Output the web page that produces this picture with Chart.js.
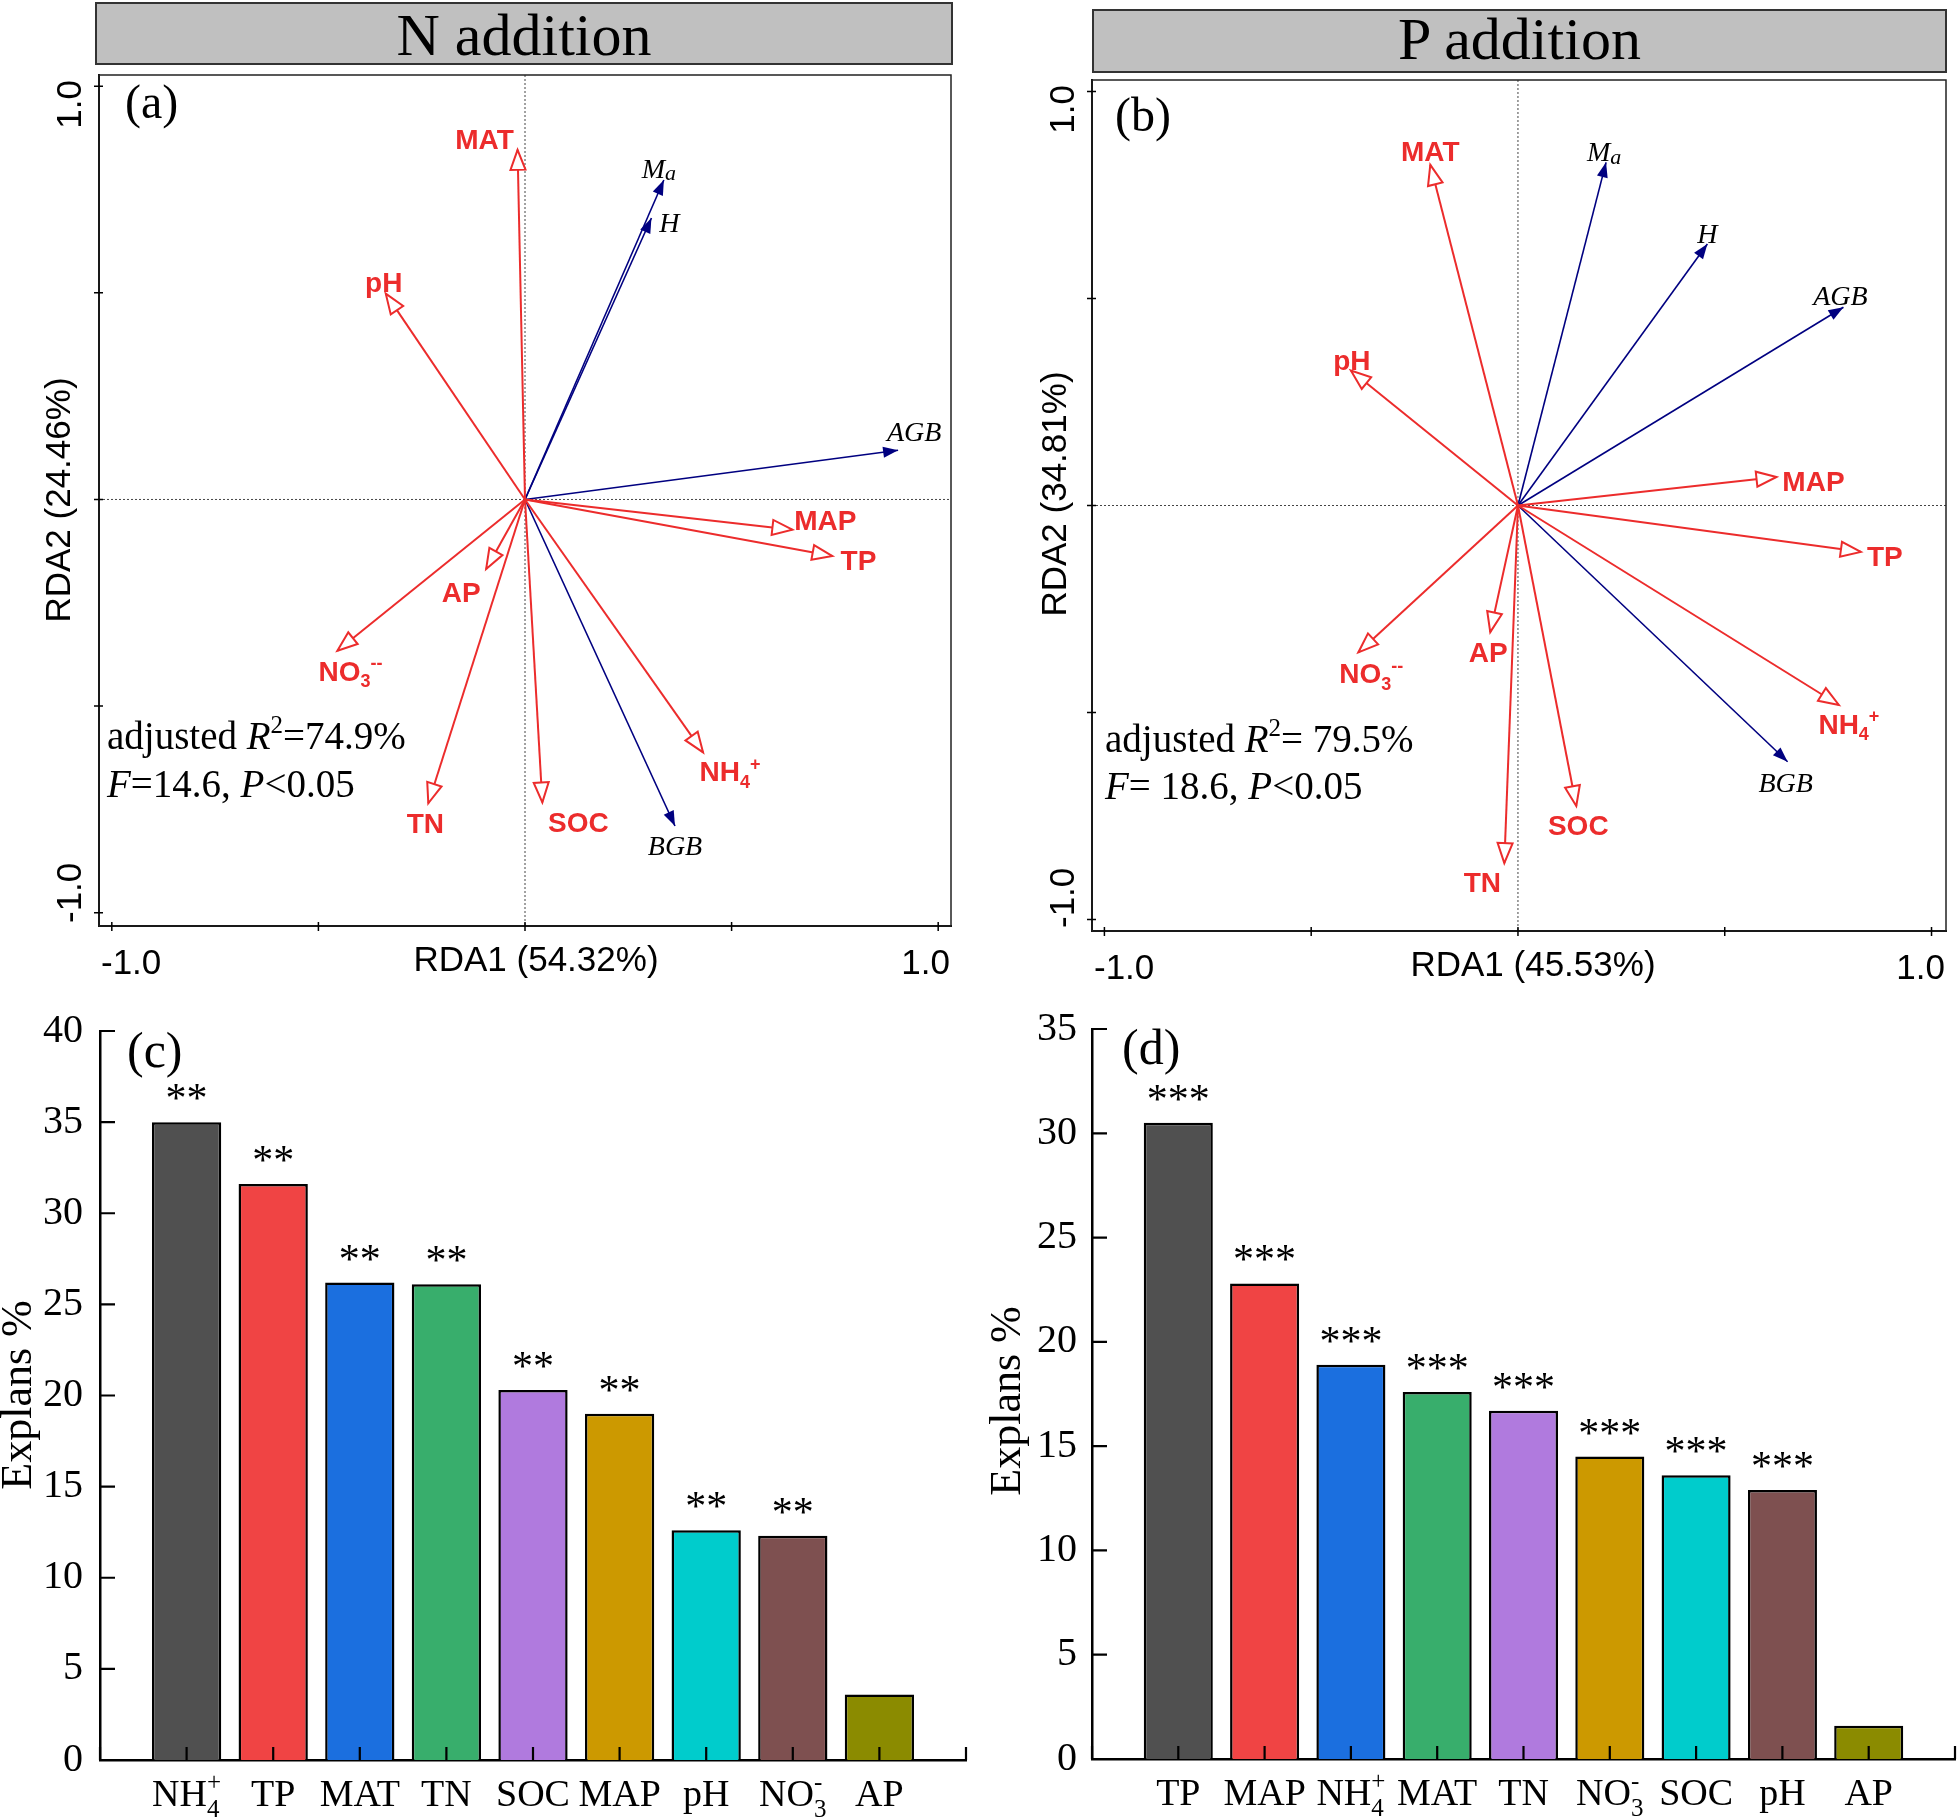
<!DOCTYPE html>
<html>
<head>
<meta charset="utf-8">
<script src="https://cdn.jsdelivr.net/npm/chart.js@4.4.1/dist/chart.umd.min.js"></script>
<style>
  body { margin: 0; background: #fff; width: 1960px; height: 1818px; position: relative; overflow: hidden; }
  canvas { position: absolute; }
  .head { position: absolute; z-index: 2; background: #c0c0c0; border: 2px solid #333; box-sizing: border-box;
          font: 60px "Liberation Serif", "Times New Roman", serif; color: #000; text-align: center; }
</style>
</head>
<body>
<canvas id="rdaN" width="980" height="990" style="left:0;top:0"></canvas>
<canvas id="rdaP" width="980" height="990" style="left:980px;top:0"></canvas>
<canvas id="barN" width="980" height="828" style="left:0;top:990px"></canvas>
<canvas id="barP" width="980" height="828" style="left:980px;top:990px"></canvas>
<div class="head" style="left:95px;top:2px;width:858px;height:63px;line-height:62px">N addition</div>
<div class="head" style="left:1092px;top:9px;width:855px;height:64px;line-height:56px">P addition</div>
<script>
// ---- RDA (a): N addition ----
const rdaNEnvNames = ['MAT', 'pH', 'MAP', 'TP', 'AP', 'NO3', 'TN', 'SOC', 'NH4'];
const rdaNEnvX = [-0.018, -0.337, 0.647, 0.744, -0.094, -0.454, -0.234, 0.042, 0.431];
const rdaNEnvY = [0.846, 0.498, -0.073, -0.137, -0.168, -0.366, -0.735, -0.733, -0.612];
const rdaNSpNames = ['Ma', 'H', 'AGB', 'BGB'];
const rdaNSpX = [0.336, 0.306, 0.903, 0.363];
const rdaNSpY = [0.773, 0.681, 0.119, -0.790];

// ---- RDA (b): P addition ----
const rdaPEnvNames = ['MAT', 'pH', 'MAP', 'TP', 'NH4', 'SOC', 'TN', 'AP', 'NO3'];
const rdaPEnvX = [-0.212, -0.404, 0.625, 0.829, 0.776, 0.141, -0.033, -0.067, -0.386];
const rdaPEnvY = [0.823, 0.326, 0.069, -0.112, -0.482, -0.726, -0.864, -0.306, -0.355];
const rdaPSpNames = ['Ma', 'H', 'AGB', 'BGB'];
const rdaPSpX = [0.213, 0.458, 0.787, 0.652];
const rdaPSpY = [0.829, 0.632, 0.479, -0.619];

// ---- bars (c) and (d) ----
const barNCats = ['NH4', 'TP', 'MAT', 'TN', 'SOC', 'MAP', 'pH', 'NO3', 'AP'];
const barNValues = [35.0, 31.6, 26.2, 26.1, 20.3, 19.0, 12.6, 12.3, 3.6];
const barNStars = ['**', '**', '**', '**', '**', '**', '**', '**', ''];
const barPCats = ['TP', 'MAP', 'NH4', 'MAT', 'TN', 'NO3', 'SOC', 'pH', 'AP'];
const barPValues = [30.5, 22.8, 18.9, 17.6, 16.7, 14.5, 13.6, 12.9, 1.6];
const barPStars = ['***', '***', '***', '***', '***', '***', '***', '***', ''];
const barColors = ['#505050', '#f04444', '#1b6fdf', '#38ae6c', '#b07ade', '#cc9900', '#00cccc', '#7e5050', '#8b8b00'];

const sans = '"Liberation Sans", Arial, sans-serif';
const serif = '"Liberation Serif", "Times New Roman", serif';
const red = '#ec2c2c';
const navy = '#000080';

// labels with sub/superscripts
const rdaParts = {
  NH4: [{t: 'NH'}, {t: '4', k: 'sub'}, {t: '+', k: 'sup'}],
  NO3: [{t: 'NO'}, {t: '3', k: 'sub'}, {t: '--', k: 'sup'}],
  Ma: [{t: 'M'}, {t: 'a', k: 'sub', scale: 0.8, dy: 0.08}]
};
const barParts = {
  NH4: [{t: 'NH'}, {t: '+', k: 'sup'}, {t: '4', k: 'sub'}],
  NO3: [{t: 'NO'}, {t: '-', k: 'sup'}, {t: '3', k: 'sub'}]
};

function fontStr(o, size, italic) {
  return (italic ? 'italic ' : '') + (o.weight || 'normal') + ' ' + size + 'px ' + o.family;
}

function drawRich(ctx, parts, x, y, o) {
  const items = [];
  let w = 0;
  for (let i = 0; i < parts.length; i++) {
    const p = parts[i];
    const it = o.italic || p.it;
    if (p.k) {
      const s = Math.round(o.size * (p.scale || 0.65));
      ctx.font = fontStr(o, s, it);
      const pw = ctx.measureText(p.t).width;
      const dy = p.dy !== undefined ? p.dy * o.size : (p.k === 'sub' ? 0.22 : -0.42) * o.size;
      items.push({t: p.t, x: w, dy: dy, font: ctx.font});
      const n = parts[i + 1];
      if (o.stacked && n && n.k && n.k !== p.k) {
        ctx.font = fontStr(o, s, it);
        const nw = ctx.measureText(n.t).width;
        items.push({t: n.t, x: w, dy: (n.k === 'sub' ? 0.3 : -0.42) * o.size, font: ctx.font});
        w += Math.max(pw, nw);
        i++;
      } else {
        w += pw;
      }
    } else {
      ctx.font = fontStr(o, o.size, it);
      items.push({t: p.t, x: w, dy: 0, font: ctx.font});
      w += ctx.measureText(p.t).width;
    }
  }
  const x0 = o.align === 'center' ? x - w / 2 : (o.align === 'right' ? x - w : x);
  ctx.save();
  ctx.fillStyle = o.color || '#000';
  ctx.textAlign = 'left';
  ctx.textBaseline = 'alphabetic';
  items.forEach(it => { ctx.font = it.font; ctx.fillText(it.t, x0 + it.x, y + it.dy); });
  ctx.restore();
}

function rdaDeco(cfg) {
  return {
    id: 'rdaDeco',
    beforeDatasetsDraw(chart) {
      const {ctx, chartArea: a, scales: {x, y}} = chart;
      const x0 = x.getPixelForValue(0), y0 = y.getPixelForValue(0);
      ctx.save();
      ctx.strokeStyle = '#444';
      ctx.lineWidth = 1;
      ctx.setLineDash([2, 2]);
      ctx.beginPath();
      ctx.moveTo(x0, a.top); ctx.lineTo(x0, a.bottom);
      ctx.moveTo(a.left, y0); ctx.lineTo(a.right, y0);
      ctx.stroke();
      ctx.restore();
    },
    afterDatasetsDraw(chart) {
      const {ctx, chartArea: a, scales: {x, y}} = chart;
      // arrow heads and labels
      chart.data.datasets.forEach((ds, i) => {
        const meta = chart.getDatasetMeta(i);
        const p0 = meta.data[0], p1 = meta.data[1];
        const ang = Math.atan2(p1.y - p0.y, p1.x - p0.x);
        const open = ds.kind === 'env';
        const L = open ? 20 : 15, W = open ? 7.5 : 5.5;
        ctx.save();
        ctx.translate(p1.x, p1.y);
        ctx.rotate(ang);
        ctx.beginPath();
        ctx.moveTo(0, 0); ctx.lineTo(-L, -W); ctx.lineTo(-L, W); ctx.closePath();
        if (open) {
          ctx.fillStyle = '#fff'; ctx.fill();
          ctx.strokeStyle = ds.borderColor; ctx.lineWidth = 2; ctx.stroke();
        } else {
          ctx.fillStyle = ds.borderColor; ctx.fill();
        }
        ctx.restore();
        const off = cfg.offsets[ds.label] || [0, 0];
        const parts = rdaParts[ds.label] || [{t: ds.label}];
        const st = open ? {size: 28, family: sans, weight: 'bold', color: red}
                        : {size: 28, family: serif, italic: true, color: '#000'};
        drawRich(ctx, parts, p1.x + off[0], p1.y + off[1] + 10, Object.assign(st, {align: 'center'}));
      });
      ctx.save();
      // frame and crossing tick marks
      ctx.strokeStyle = '#222';
      ctx.lineWidth = 1.5;
      ctx.strokeRect(a.left, a.top, a.right - a.left, a.bottom - a.top);
      ctx.strokeStyle = '#000';
      ctx.beginPath();
      x.ticks.forEach(t => { const px = x.getPixelForValue(t.value); ctx.moveTo(px, a.bottom - 4); ctx.lineTo(px, a.bottom + 5); });
      y.ticks.forEach(t => { const py = y.getPixelForValue(t.value); ctx.moveTo(a.left - 5, py); ctx.lineTo(a.left + 4, py); });
      ctx.stroke();
      // axis texts
      ctx.fillStyle = '#000';
      ctx.font = '35px ' + sans;
      ctx.textBaseline = 'alphabetic';
      const by = a.bottom + 48;
      ctx.textAlign = 'left'; ctx.fillText('-1.0', a.left + 2, by);
      ctx.textAlign = 'right'; ctx.fillText('1.0', a.right - 1, by);
      ctx.textAlign = 'center'; ctx.fillText(cfg.xTitle, cfg.xTitleX, by - 3);
      ctx.save();
      ctx.translate(a.left - 28, a.top + 5);
      ctx.rotate(-Math.PI / 2);
      ctx.textAlign = 'right'; ctx.textBaseline = 'middle';
      ctx.fillText('1.0', 0, 0);
      ctx.restore();
      ctx.save();
      ctx.translate(a.left - 28, a.bottom - 3);
      ctx.rotate(-Math.PI / 2);
      ctx.textAlign = 'left'; ctx.textBaseline = 'middle';
      ctx.fillText('-1.0', 0, 0);
      ctx.restore();
      ctx.save();
      ctx.translate(a.left - cfg.yTitleDx, cfg.yTitleY);
      ctx.rotate(-Math.PI / 2);
      ctx.textAlign = 'center'; ctx.textBaseline = 'middle';
      ctx.fillText(cfg.yTitle, 0, 0);
      ctx.restore();
      // panel letter
      ctx.font = '48px ' + serif;
      ctx.textAlign = 'left';
      ctx.fillText(cfg.letter, cfg.letterX, cfg.letterY);
      ctx.restore();
      // statistics
      cfg.stats.forEach((line, k) => drawRich(ctx, line, cfg.statsX, cfg.statsY[k], {size: 39, family: serif, align: 'left'}));
    }
  };
}

function rdaChart(id, envNames, envX, envY, spNames, spX, spY, cfg) {
  const sets = [];
  envNames.forEach((n, i) => sets.push({
    label: n, kind: 'env', data: [{x: 0, y: 0}, {x: envX[i], y: envY[i]}],
    showLine: true, borderColor: red, borderWidth: 2, pointRadius: 0, pointHoverRadius: 0
  }));
  spNames.forEach((n, i) => sets.push({
    label: n, kind: 'sp', data: [{x: 0, y: 0}, {x: spX[i], y: spY[i]}],
    showLine: true, borderColor: navy, borderWidth: 1.6, pointRadius: 0, pointHoverRadius: 0
  }));
  const axis = (min, max) => ({
    type: 'linear', min: min, max: max,
    ticks: {display: false, stepSize: 0.5, includeBounds: false},
    grid: {display: false, drawTicks: false},
    border: {color: '#000', width: 2}
  });
  const xs = axis(cfg.xMin, cfg.xMax);
  xs.afterFit = s => { s.height = cfg.xH; };
  const ys = axis(cfg.yMin, cfg.yMax);
  ys.afterFit = s => { s.width = cfg.yW; };
  return new Chart(document.getElementById(id), {
    type: 'scatter',
    data: {datasets: sets},
    options: {
      responsive: false, animation: false, events: [],
      layout: {padding: {top: cfg.top, right: cfg.right, left: 0, bottom: 0}},
      plugins: {legend: {display: false}, tooltip: {enabled: false}},
      scales: {x: xs, y: ys}
    },
    plugins: [rdaDeco(cfg)]
  });
}

function barDeco(cfg) {
  return {
    id: 'barDeco',
    afterDatasetsDraw(chart) {
      const {ctx, chartArea: a, scales: {x, y}} = chart;
      ctx.save();
      ctx.strokeStyle = '#000';
      ctx.lineWidth = 2.2;
      ctx.beginPath();
      y.ticks.forEach(t => {
        const py = y.getPixelForValue(t.value);
        ctx.moveTo(a.left, py); ctx.lineTo(a.left + 15, py);
      });
      chart.data.labels.forEach((l, i) => {
        const px = x.getPixelForValue(i);
        ctx.moveTo(px, a.bottom); ctx.lineTo(px, a.bottom - 13);
      });
      ctx.stroke();
      const meta = chart.getDatasetMeta(0);
      ctx.fillStyle = '#000';
      ctx.font = '42px ' + serif;
      ctx.textAlign = 'center';
      ctx.textBaseline = 'alphabetic';
      cfg.stars.forEach((s, i) => {
        const el = meta.data[i + 1];
        if (s) ctx.fillText(s, el.x, el.y - 10);
      });
      ctx.font = '50px ' + serif;
      ctx.textAlign = 'left';
      ctx.fillText(cfg.letter, cfg.letterX, cfg.letterY);
      ctx.save();
      ctx.translate(cfg.titleX, cfg.titleY);
      ctx.rotate(-Math.PI / 2);
      ctx.font = '44px ' + serif;
      ctx.textAlign = 'center';
      ctx.textBaseline = 'middle';
      ctx.fillText('Explans %', 0, 0);
      ctx.restore();
      ctx.restore();
      cfg.cats.forEach((c, i) => drawRich(ctx, barParts[c] || [{t: c}], x.getPixelForValue(i + 1), a.bottom + 46,
        {size: 38, family: serif, align: 'center', stacked: true}));
    }
  };
}

function barChart(id, cats, values, stars, cfg) {
  cfg.cats = cats;
  cfg.stars = stars;
  return new Chart(document.getElementById(id), {
    type: 'bar',
    data: {
      labels: [''].concat(cats, ['']),
      datasets: [{
        data: [null].concat(values, [null]),
        backgroundColor: ['transparent'].concat(barColors, ['transparent']),
        borderColor: '#000', borderWidth: 2.5,
        barPercentage: 0.8, categoryPercentage: 1
      }]
    },
    options: {
      responsive: false, animation: false, events: [],
      layout: {padding: {top: cfg.top, right: cfg.right, left: 0, bottom: 0}},
      plugins: {legend: {display: false}, tooltip: {enabled: false}},
      scales: {
        x: {
          type: 'category', offset: false,
          grid: {display: false, drawTicks: false},
          ticks: {display: false},
          border: {color: '#000', width: 2.5},
          afterFit: s => { s.height = cfg.xH; }
        },
        y: {
          min: 0, max: cfg.yMax,
          ticks: {stepSize: 5, color: '#000', padding: cfg.pad, font: {family: serif, size: 40}},
          grid: {display: false, drawTicks: false},
          border: {color: '#000', width: 2.5},
          afterFit: s => { s.width = cfg.yW; }
        }
      }
    },
    plugins: [barDeco(cfg)]
  });
}

rdaChart('rdaN', rdaNEnvNames, rdaNEnvX, rdaNEnvY, rdaNSpNames, rdaNSpX, rdaNSpY, {
  xMin: -1.031, xMax: 1.031, yMin: -1.032, yMax: 1.027,
  top: 75, right: 29, yW: 99, xH: 64,
  xTitle: 'RDA1 (54.32%)', xTitleX: 536, yTitle: 'RDA2 (24.46%)', yTitleY: 500, yTitleDx: 39,
  letter: '(a)', letterX: 125, letterY: 118,
  statsX: 107, statsY: [749, 797],
  stats: [
    [{t: 'adjusted '}, {t: 'R', it: true}, {t: '2', k: 'sup'}, {t: '=74.9%'}],
    [{t: 'F', it: true}, {t: '=14.6, '}, {t: 'P', it: true}, {t: '<0.05'}]
  ],
  offsets: {MAT: [-33, -11], pH: [-2, -12], MAP: [33, -10], TP: [26, 4], AP: [-25, 23], NO3: [13, 20],
            TN: [-3, 20], SOC: [36, 20], NH4: [27, 19], Ma: [-5, -12], H: [18, 4], AGB: [16, -19], BGB: [0, 19]}
});

rdaChart('rdaP', rdaPEnvNames, rdaPEnvX, rdaPEnvY, rdaPSpNames, rdaPSpX, rdaPSpY, {
  xMin: -1.030, xMax: 1.035, yMin: -1.028, yMax: 1.028,
  top: 80, right: 14, yW: 112, xH: 59,
  xTitle: 'RDA1 (45.53%)', xTitleX: 553, yTitle: 'RDA2 (34.81%)', yTitleY: 494, yTitleDx: 36,
  letter: '(b)', letterX: 135, letterY: 131,
  statsX: 125, statsY: [752, 799],
  stats: [
    [{t: 'adjusted '}, {t: 'R', it: true}, {t: '2', k: 'sup'}, {t: '= 79.5%'}],
    [{t: 'F', it: true}, {t: '= 18.6, '}, {t: 'P', it: true}, {t: '<0.05'}]
  ],
  offsets: {MAT: [0, -14], pH: [1, -11], MAP: [37, 4], TP: [24, 4], NH4: [10, 19], SOC: [2, 19], TN: [-22, 19],
            AP: [-2, 20], NO3: [13, 21], Ma: [-2, -11], H: [0, -11], AGB: [-3, -12], BGB: [-2, 20]}
});

barChart('barN', barNCats, barNValues, barNStars, {
  yMax: 40, top: 36, right: 14, yW: 100, xH: 58, pad: 17,
  letter: '(c)', letterX: 127, letterY: 77, titleX: 19, titleY: 405
});

barChart('barP', barPCats, barPValues, barPStars, {
  yMax: 35, top: 35, right: 5, yW: 112, xH: 59, pad: 15,
  letter: '(d)', letterX: 142, letterY: 74, titleX: 28, titleY: 411
});
</script>
</body>
</html>
